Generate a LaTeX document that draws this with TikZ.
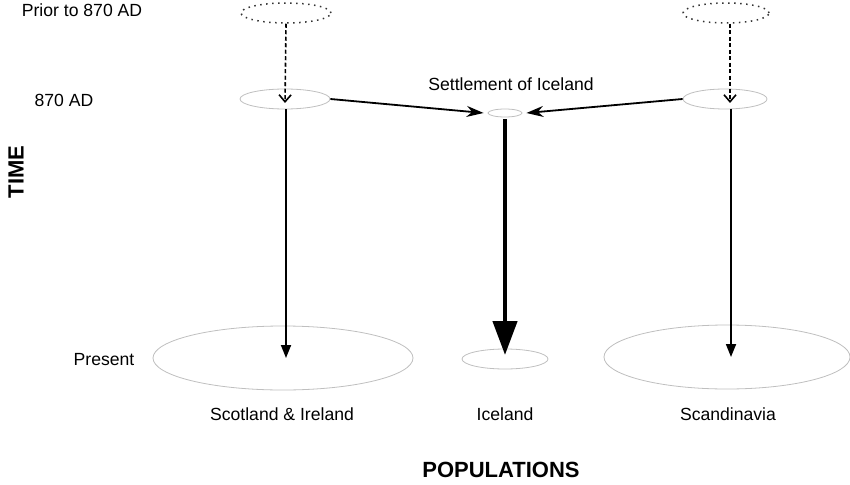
\documentclass[tikz,border=0pt]{standalone}
\usepackage{fontspec}
\setmainfont{Liberation Sans}
\usetikzlibrary{positioning, shapes.geometric, arrows.meta}

\begin{document}
\begin{tikzpicture}[
    x=1pt, y=-1pt,
    pop/.style={%
      draw=black!25,
      ellipse,
      line width=0.8pt,
      inner sep=0pt,
    },
    past/.style={%
      draw=black!80,
      ellipse,
      dash pattern=on 1.5pt off 4.5pt,
      line width=1.5pt,
      inner sep=0pt,
    },
    label/.style={%
      font=\fontsize{17.6}{20}\selectfont,
    },
    lineage/.style={%
      -{Stealth[length=17pt,width=11pt]},
      line width=1.8pt,
    },
    origin/.style={%
      -{Straight Barb[length=7pt,width=12pt]},
      dash pattern=on 4pt off 2.5pt,
      line width=1.6pt,
    },
  ]
    \useasboundingbox (0,0) rectangle (850,484);

    % populations
    \node [past, minimum width=90, minimum height=20] (priorS) at (286,13) {};
    \node [past, minimum width=86, minimum height=20] (priorN) at (726,13) {};
    \node [pop, minimum width=90, minimum height=20] (eraS) at (285,99) {};
    \node [pop, minimum width=84, minimum height=20] (eraN) at (725,99) {};
    \node [pop, minimum width=34, minimum height=8] (settle) at (505,113) {};
    \node [pop, minimum width=260, minimum height=64] (presS) at (283,358) {};
    \node [pop, minimum width=86, minimum height=20] (presI) at (505,359) {};
    \node [pop, minimum width=246, minimum height=64] (presN) at (727,357) {};

    % texts
    \node [label] (tPrior) at (82,10) {Prior to 870 AD};
    \node [label] (tEra) at (64,100) {870 AD};
    \node [label] (tPres) at (104,360) {Present};
    \node [label] (tSettle) at (511,84) {Settlement of Iceland};
    \node [label] (tScot) at (282,414) {Scotland \& Ireland};
    \node [label] (tIce) at (505,414) {Iceland};
    \node [label] (tScan) at (728,414) {Scandinavia};
    \node [font=\fontsize{22}{24}\selectfont\bfseries] (tPops) at (501,470) {POPULATIONS};
    \node [font=\fontsize{22}{24}\selectfont\bfseries, rotate=90] (tTime) at (16,172) {TIME};

    % lineages
    \draw [origin] (priorS.south) -- ([yshift=-4]eraS.center);
    \draw [origin] ([xshift=4]priorN.south) -- ([xshift=5,yshift=-4]eraN.center);
    \draw [lineage] (eraS.east) -- ([xshift=-4]settle.west);
    \draw [lineage] (eraN.west) -- ([xshift=4]settle.east);
    \draw [lineage, -{Stealth[length=13pt,width=10pt,inset=0pt]}] ([xshift=1]eraS.south) -- ([xshift=3]presS.center);
    \draw [lineage, -{Stealth[length=13pt,width=10pt,inset=0pt]}] ([xshift=6]eraN.south) -- ([xshift=4]presN.center);
    \draw [line width=4.5pt, -{Stealth[length=34pt,width=24pt,inset=0pt]}] (settle.south) ++(0,2) -- ([yshift=4]presI.center);
\end{tikzpicture}
\end{document}
